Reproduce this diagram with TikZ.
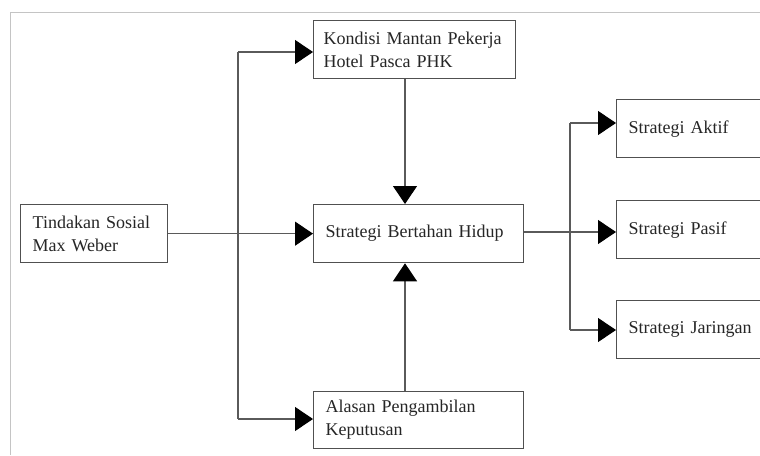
\documentclass[tikz,border=0pt]{standalone}
\usepackage{fontspec}
\setmainfont{Liberation Serif}
\usetikzlibrary{arrows.meta}
\definecolor{boxline}{HTML}{505050}
\definecolor{conline}{HTML}{5A5A5A}
\definecolor{frameline}{HTML}{C4C4C4}
\definecolor{txt}{HTML}{262626}
\begin{document}
\begin{tikzpicture}[x=1pt,y=-1pt,
  box/.style={draw=boxline, line width=1.3pt, rectangle, anchor=north west,
    inner xsep=12pt, inner ysep=0pt, align=left, text=txt,
    font=\fontsize{18}{23}\selectfont},
  conn/.style={draw=conline, line width=1.1pt},
  arr/.style={conn, -{Triangle[length=18pt,width=24pt,color=black,fill=black]}}]
\useasboundingbox (0,0) rectangle (760,455);
\fill[white] (0,0) rectangle (760,455);
% frame
\draw[frameline, line width=1pt] (760,12) -- (10,12) -- (10,455);
% boxes
\node[box, inner xsep=10pt, minimum width=202pt, minimum height=58pt, text width=182pt] (kon) at (313,20) {Kondisi Mantan Pekerja\\Hotel Pasca PHK};
\node[box, minimum width=147pt, minimum height=58pt, text width=123pt] (tin) at (20,204) {Tindakan Sosial\\Max Weber};
\node[box, minimum width=210pt, minimum height=58pt, text width=186pt] (sbh) at (313,204) {Strategi Bertahan Hidup};
\node[box, minimum width=210pt, minimum height=57pt, text width=186pt] (ala) at (313,391) {Alasan Pengambilan\\Keputusan};
\node[box, minimum width=148pt, minimum height=58pt, text width=124pt] (akt) at (616,99) {Strategi Aktif};
\node[box, minimum width=148pt, minimum height=58pt, text width=124pt] (pas) at (616,200) {Strategi Pasif};
\node[box, minimum width=148pt, minimum height=58pt, text width=124pt] (jar) at (616,300) {Strategi Jaringan};
% coordinates
\coordinate (bt) at (238,52);
\coordinate (bb) at (238,419);
\coordinate (vx) at (405,0);
\coordinate (rt) at (570,123);
\coordinate (rm) at (570,232);
\coordinate (rb) at (570,330);
% left branch
\draw[conn] (bt) -- (bb);
\draw[arr] (bt) -- (bt -| kon.west);
\draw[arr] (bb) -- (bb -| ala.west);
\draw[arr] (tin.east) -- (sbh.west);
% vertical
\draw[arr] (kon.south -| vx) -- (sbh.north -| vx);
\draw[arr] (ala.north -| vx) -- (sbh.south -| vx);
% right branch
\draw[conn] (sbh.east |- rm) -- (rm);
\draw[conn] (rt) -- (rb);
\draw[arr] (rt) -- (rt -| akt.west);
\draw[arr] (rm) -- (rm -| pas.west);
\draw[arr] (rb) -- (rb -| jar.west);
\end{tikzpicture}
\end{document}
